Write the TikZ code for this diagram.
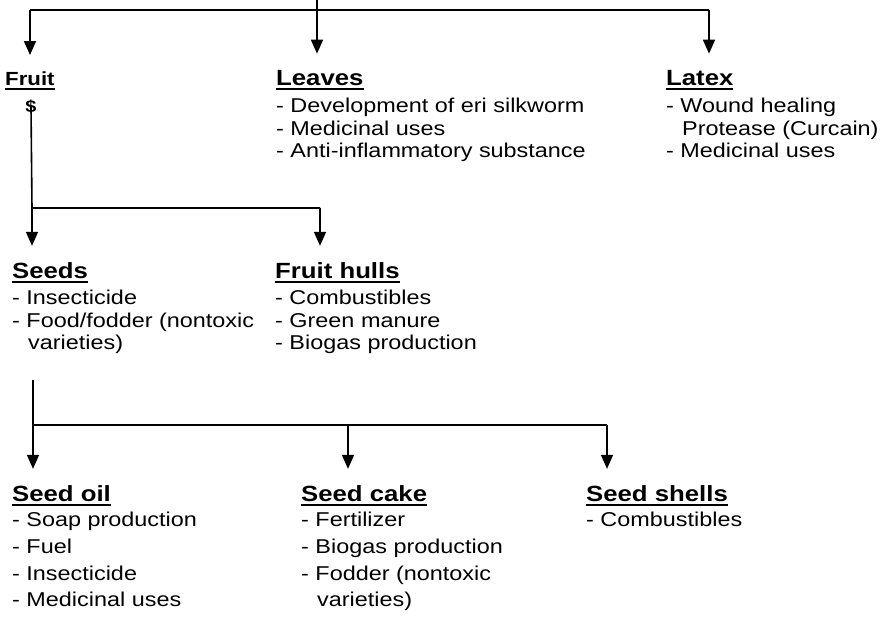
\documentclass[tikz,border=0pt]{standalone}
\usepackage{fontspec}
\setmainfont[FakeStretch=1.17]{Liberation Sans}
\usepackage{tikz}
\usetikzlibrary{arrows.meta}
\newcommand{\undr}[1]{\leavevmode\setbox0\hbox{#1}\rlap{\vrule height -3pt depth 4.8pt width \wd0}\box0}

\begin{document}
\begin{tikzpicture}[x=1pt,y=-1pt,
    head/.style={anchor=base west,inner sep=0pt,font=\fontsize{22}{26}\selectfont\bfseries},
    uses/.style={anchor=north west,inner sep=0pt,align=left,font=\fontsize{20}{22.5}\selectfont},
    usesb/.style={uses,font=\fontsize{20}{26.7}\selectfont},
    link/.style={line width=1.6pt},
    tip/.style={link,-{Triangle[width=12pt,length=14pt]},shorten >=16pt}]
  \useasboundingbox (0,0) rectangle (889,616);
  \coordinate (r) at (317,0);
  \coordinate (r1) at (30,10);
  \coordinate (r2) at (317,10);
  \coordinate (r3) at (709,10);
  \node[head,font=\fontsize{19}{22}\selectfont\bfseries] (fruit) at (5,85) {\undr{Fruit}};
  \node[inner sep=0pt,font=\fontsize{17}{20}\selectfont\bfseries] (dollar) at (31,107) {\$};
  \node[head] (leaves) at (276,85) {\undr{Leaves}};
  \node[uses] (leavesuses) at (276,98) {- Development of eri silkworm\\- Medicinal uses\\- Anti-inflammatory substance};
  \node[head] (latex) at (666,85) {\undr{Latex}};
  \node[uses] (latexuses) at (666,98) {- Wound healing\\\hspace*{0.8em}Protease (Curcain)\\- Medicinal uses};
  \coordinate (s1) at (32,208);
  \coordinate (s2) at (320,208);
  \node[head] (seeds) at (12,278) {\undr{Seeds}};
  \node[uses] (seedsuses) at (12,290) {- Insecticide\\- Food/fodder (nontoxic\\\hspace*{0.8em}varieties)};
  \node[head] (hulls) at (275,278) {\undr{Fruit hulls}};
  \node[uses] (hullsuses) at (275,290) {- Combustibles\\- Green manure\\- Biogas production};
  \coordinate (b) at (33,380);
  \coordinate (b1) at (33,425);
  \coordinate (b2) at (348,425);
  \coordinate (b3) at (607,425);
  \node[head] (oil) at (12,501) {\undr{Seed oil}};
  \node[usesb] (oiluses) at (12,512) {- Soap production\\- Fuel\\- Insecticide\\- Medicinal uses};
  \node[head] (cake) at (301,501) {\undr{Seed cake}};
  \node[usesb] (cakeuses) at (301,512) {- Fertilizer\\- Biogas production\\- Fodder (nontoxic\\\hspace*{0.8em}varieties)};
  \node[head] (shells) at (586,501) {\undr{Seed shells}};
  \node[usesb] (shellsuses) at (586,512) {- Combustibles};
  \draw[link] (r) -- (r2);
  \draw[link] (r1) -- (r3);
  \draw[tip] (r1) -- (r1 |- fruit.north);
  \draw[tip] (r2) -- (r2 |- leaves.north);
  \draw[tip] (r3) -- (r3 |- latex.north);
  \draw[link] (dollar.center) -- (s1) -- (s2);
  \draw[tip] (s1) -- (s1 |- seeds.north);
  \draw[tip] (s2) -- (s2 |- hulls.north);
  \draw[link] (b) -- (b1) -- (b3);
  \draw[tip] (b1) -- (b1 |- oil.north);
  \draw[tip] (b2) -- (b2 |- cake.north);
  \draw[tip] (b3) -- (b3 |- shells.north);
\end{tikzpicture}
\end{document}
